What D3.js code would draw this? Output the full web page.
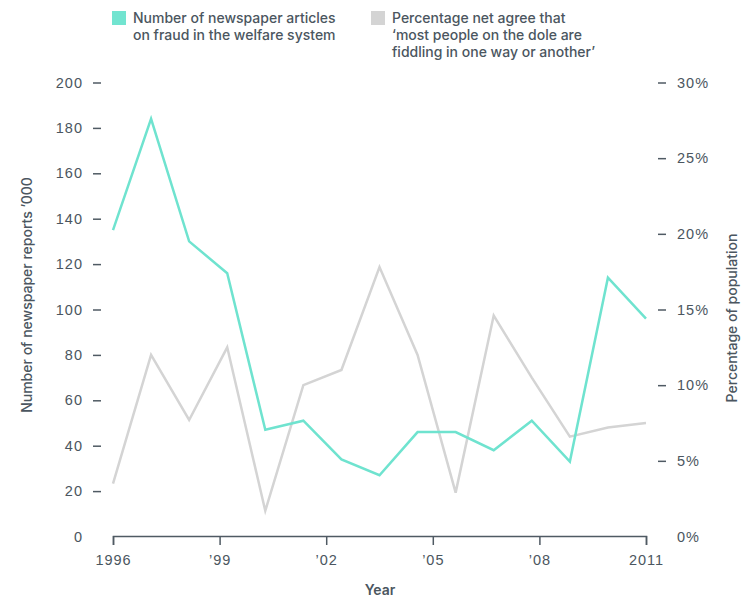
<!DOCTYPE html>
<html>
<head>
<meta charset="utf-8">
<script src="https://cdn.jsdelivr.net/npm/d3@7"></script>
<style>
  html, body { margin: 0; padding: 0; background: #ffffff; }
  svg { display: block; font-family: Inter, "Open Sans", sans-serif; }
  .axis text { fill: #4b5660; font-size: 14.5px; letter-spacing: 1px; }
  .axis line, .axis path { stroke: #4f5a63; stroke-width: 1.5; }
</style>
</head>
<body>
<svg id="chart" width="749" height="599"></svg>
<script>
// Survey rounds, evenly spaced from 1996 to 2011
const pointIndex = d3.range(15);

// Newspaper articles on welfare fraud ('000)
const articles = [135, 184, 130, 116, 47, 51, 34, 27, 46, 46, 38, 51, 33, 114, 96];

// Net agree that most people on the dole are fiddling (%)
const netAgree = [3.5, 12.0, 7.7, 12.5, 1.7, 10.0, 11.0, 17.8, 12.0, 2.9, 14.6, 10.5, 6.6, 7.2, 7.5];

// Axis ticks
const yearTicks = [1996, 1999, 2002, 2005, 2008, 2011];
const leftTicks = [0, 20, 40, 60, 80, 100, 120, 140, 160, 180, 200];
const rightTicks = [0, 5, 10, 15, 20, 25, 30];

const legendItems = [
  { color: "#72e4d0", lines: ["Number of newspaper articles", "on fraud in the welfare system"] },
  { color: "#d4d4d4", lines: ["Percentage net agree that", "\u2018most people on the dole are", "fiddling in one way or another\u2019"] }
];

const svg = d3.select("#chart");
const plot = { left: 113, right: 646, top: 82.5, bottom: 536.5 };

const x = d3.scaleLinear().domain([0, pointIndex.length - 1]).range([plot.left, plot.right]);
const xYear = d3.scaleLinear().domain([1996, 2011]).range([plot.left, plot.right]);
const yLeft = d3.scaleLinear().domain([0, 200]).range([plot.bottom, plot.top]);
const yRight = d3.scaleLinear().domain([0, 30]).range([plot.bottom, plot.top]);

// Left axis: short dashes, no domain line, no dash at zero
const gL = svg.append("g").attr("class", "axis")
  .attr("transform", "translate(101,0)")
  .call(d3.axisLeft(yLeft).tickValues(leftTicks).tickSize(8).tickPadding(10));
gL.select(".domain").remove();
gL.selectAll(".tick").filter(d => d === 0).select("line").remove();

// Right axis
const gR = svg.append("g").attr("class", "axis")
  .attr("transform", "translate(658,0)")
  .call(d3.axisRight(yRight).tickValues(rightTicks).tickSize(8).tickPadding(11)
    .tickFormat(d => d + "%"));
gR.select(".domain").remove();
gR.selectAll(".tick").filter(d => d === 0).select("line").remove();

// Bottom axis
const gX = svg.append("g").attr("class", "axis")
  .attr("transform", "translate(0,536)")
  .call(d3.axisBottom(xYear).tickValues(yearTicks).tickSize(9).tickSizeOuter(9).tickPadding(10)
    .tickFormat(d => (d === 1996 || d === 2011) ? String(d) : "\u2019" + String(d).slice(2)));

// Axis titles
svg.append("text")
  .attr("transform", "translate(32,295) rotate(-90)")
  .attr("text-anchor", "middle")
  .attr("fill", "#4b5660").attr("font-size", 14).attr("font-weight", 500)
  .text("Number of newspaper reports \u2019000");

svg.append("text")
  .attr("transform", "translate(737,318) rotate(-90)")
  .attr("text-anchor", "middle")
  .attr("fill", "#4b5660").attr("font-size", 14).attr("font-weight", 500)
  .text("Percentage of population");

svg.append("text")
  .attr("x", 380).attr("y", 595)
  .attr("text-anchor", "middle")
  .attr("fill", "#4b5660").attr("font-size", 14).attr("font-weight", 600)
  .text("Year");

// Series lines
const lineLeft = d3.line().x((d, i) => x(i)).y(d => yLeft(d));
const lineRight = d3.line().x((d, i) => x(i)).y(d => yRight(d));

svg.append("path").datum(netAgree)
  .attr("d", lineRight)
  .attr("fill", "none").attr("stroke", "#d4d4d4").attr("stroke-width", 2.5)
  .attr("stroke-linejoin", "miter");

svg.append("path").datum(articles)
  .attr("d", lineLeft)
  .attr("fill", "none").attr("stroke", "#6fe3cf").attr("stroke-width", 2.5)
  .attr("stroke-linejoin", "miter");

// Legend: swatch plus a multi-line label
const legendX = [112, 371];
legendItems.forEach((item, k) => {
  const g = svg.append("g").attr("transform", `translate(${legendX[k]},11)`);
  g.append("rect").attr("width", 14).attr("height", 14).attr("fill", item.color);
  const label = g.append("text")
    .attr("fill", "#4b5660").attr("font-size", 14).attr("font-weight", 500);
  item.lines.forEach((t, j) => {
    label.append("tspan").attr("x", 21).attr("y", 12 + j * 17).text(t);
  });
});
</script>
</body>
</html>
